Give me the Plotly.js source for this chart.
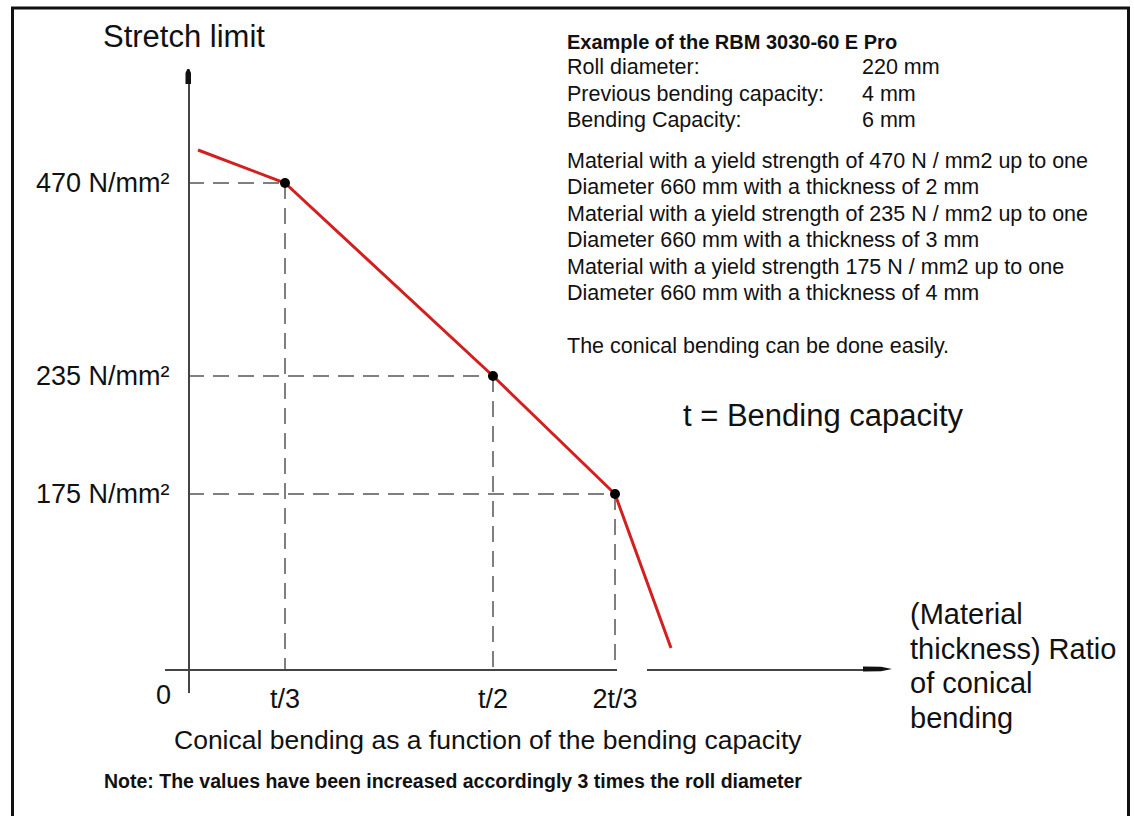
<!DOCTYPE html>
<html>
<head>
<meta charset="utf-8">
<script src="https://cdn.plot.ly/plotly-3.0.1.min.js"></script>
<style>html,body{margin:0;padding:0;background:#fff;}#chart{width:1134px;height:816px;}</style>
</head>
<body>
<div id="chart"></div>
<script>
// ---- data (schematic diagram positions) ----
const ratioLabels = ['t/3', 't/2', '2t/3'];
const ratioPos = [97, 305, 427];
const stressLabels = ['470 N/mm²', '235 N/mm²', '175 N/mm²'];
const stressPos = [486, 293, 175];
const curveX = [10, 97, 305, 427, 483];
const curveY = [519, 486, 293, 175, 21];
const keyX = [97, 305, 427];
const keyY = [486, 293, 175];

const specTitle = 'Example of the RBM 3030-60 E Pro';
const specLabels = ['Roll diameter:', 'Previous bending capacity:', 'Bending Capacity:'];
const specValues = ['220 mm', '4 mm', '6 mm'];
const infoLines = [
  'Material with a yield strength of 470 N / mm2 up to one',
  'Diameter 660 mm with a thickness of 2 mm',
  'Material with a yield strength of 235 N / mm2 up to one',
  'Diameter 660 mm with a thickness of 3 mm',
  'Material with a yield strength 175 N / mm2 up to one',
  'Diameter 660 mm with a thickness of 4 mm'
];
const easyNote = 'The conical bending can be done easily.';
const tDef = 't = Bending capacity';
const yTitle = 'Stretch limit';
const xTitleLines = ['(Material', 'thickness) Ratio', 'of conical', 'bending'];
const caption = 'Conical bending as a function of the bending capacity';
const footNote = 'Note: The values have been increased accordingly 3 times the roll diameter';

// ---- layout helpers ----
const W = 1134, H = 816;
const FONT = 'Liberation Sans, Arial, Helvetica, sans-serif';
const px = x => x / W;
const py = y => 1 - y / H;

// dashed guide lines built from key points
const gx = [], gy = [];
keyX.forEach((x, i) => {
  gx.push(0, x, null, x, x, null);
  gy.push(keyY[i], keyY[i], null, keyY[i], 0, null);
});

const traces = [
  {x: gx, y: gy, mode: 'lines', line: {color: '#555', width: 1.5, dash: '16px,9px'}, hoverinfo: 'skip', connectgaps: false},
  {x: curveX, y: curveY, mode: 'lines', line: {color: '#d21f1f', width: 3}, hoverinfo: 'skip'},
  {x: keyX, y: keyY, mode: 'markers', marker: {color: '#000', size: 10}, hoverinfo: 'skip'}
];

const ann = [];
function txt(text, x, y, size, opts) {
  ann.push(Object.assign({text: text, xref: 'paper', yref: 'paper', x: px(x), y: py(y),
    xanchor: 'left', yanchor: 'middle', showarrow: false,
    font: {family: FONT, size: size, color: '#111'}}, opts || {}));
}
txt(yTitle, 101, 37, 31);
txt('<b>' + specTitle + '</b>', 565, 42, 20);
specLabels.forEach((s, i) => { txt(s, 565, 67 + i * 26.5, 21.5); txt(specValues[i], 860, 67 + i * 26.5, 21.5); });
infoLines.forEach((s, i) => txt(s, 565, 161 + i * 26.5, 21.5));
txt(easyNote, 565, 346, 21.5);
txt(tDef, 681, 415, 31);
xTitleLines.forEach((s, i) => txt(s, 908, 614 + i * 34.5, 29));
txt(caption, 488, 740, 26.5, {xanchor: 'center'});
txt('<b>' + footNote + '</b>', 102, 781, 19.5);
// origin label
ann.push({text: '0', xref: 'x', yref: 'y', x: 0, y: 0, xanchor: 'center', yanchor: 'top',
  xshift: -25, yshift: -9, showarrow: false, font: {family: FONT, size: 27, color: '#111'}});

const shapes = [
  // frame
  {type: 'rect', xref: 'paper', yref: 'paper', x0: px(12.5), x1: px(1128.5), y0: py(8), y1: -0.05,
   line: {color: '#111', width: 3}, fillcolor: 'rgba(0,0,0,0)', layer: 'above'},
  // y arrow head
  {type: 'path', xref: 'paper', yref: 'paper', layer: 'above', line: {width: 0}, fillcolor: '#111',
   path: `M${px(185.5)},${py(84)} L${px(185.5)},${py(73)} L${px(187.3)},${py(69)} L${px(189.3)},${py(69)} L${px(191)},${py(73)} L${px(191)},${py(84)} Z`},
  // x arrow head
  {type: 'path', xref: 'paper', yref: 'paper', layer: 'above', line: {width: 0}, fillcolor: '#111',
   path: `M${px(863)},${py(666.5)} L${px(881)},${py(666.8)} L${px(892)},${py(669)} L${px(881)},${py(671.2)} L${px(863)},${py(671.5)} Z`},
  // small gap in the x axis line
  {type: 'rect', xref: 'paper', yref: 'paper', layer: 'above', line: {width: 0}, fillcolor: '#fff',
   x0: px(617), x1: px(647), y0: py(667), y1: py(671.5)}
];

const layout = {
  width: W, height: H,
  margin: {l: 0, r: 0, t: 0, b: 0},
  paper_bgcolor: '#fff', plot_bgcolor: 'rgba(0,0,0,0)',
  showlegend: false,
  xaxis: {domain: [px(165), px(882)], range: [-23, 694], anchor: 'free', position: py(669),
    showline: true, linecolor: '#444', linewidth: 1.5, showgrid: false, zeroline: false,
    tickmode: 'array', tickvals: ratioPos, ticktext: ratioLabels, ticks: '',
    tickfont: {family: FONT, size: 27, color: '#111'}, ticklabelstandoff: 5, fixedrange: true},
  yaxis: {domain: [py(693), py(76)], range: [-24, 593], anchor: 'free', position: px(188),
    showline: true, linecolor: '#444', linewidth: 1.5, showgrid: false, zeroline: false,
    tickmode: 'array', tickvals: stressPos, ticktext: stressLabels, ticks: '',
    tickfont: {family: FONT, size: 27, color: '#111'}, ticklabelstandoff: 13, fixedrange: true},
  annotations: ann,
  shapes: shapes
};

Plotly.newPlot('chart', traces, layout, {staticPlot: true, displayModeBar: false});
</script>
</body>
</html>
